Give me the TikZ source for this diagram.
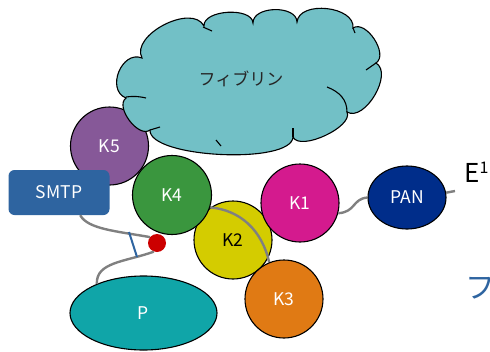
\documentclass[tikz,border=0pt]{standalone}
\usepackage{fontspec}
\setmainfont{Noto Sans CJK JP}
\usetikzlibrary{shapes.geometric}
\definecolor{cloudc}{RGB}{114,192,198}
\definecolor{k5c}{RGB}{134,88,152}
\definecolor{smtpc}{RGB}{46,100,160}
\definecolor{k4c}{RGB}{58,150,62}
\definecolor{k2c}{RGB}{212,204,0}
\definecolor{k1c}{RGB}{212,26,142}
\definecolor{k3c}{RGB}{224,122,20}
\definecolor{panc}{RGB}{0,45,138}
\definecolor{pc}{RGB}{16,165,168}
\definecolor{dotc}{RGB}{204,0,0}
\definecolor{greyc}{RGB}{128,128,128}
\definecolor{tickc}{RGB}{46,100,160}
\pgfdeclarelayer{bg}
\pgfdeclarelayer{mid}
\pgfsetlayers{bg,mid,main}
\begin{document}
\begin{tikzpicture}[x=1pt,y=-1pt,
  ball/.style={circle, draw=black, line width=1.1pt, minimum size=78pt, inner sep=0pt,
    text=white, font=\fontsize{17.5}{20}\selectfont},
  oval/.style={ellipse, draw=black, line width=1.1pt, inner sep=0pt,
    text=white, font=\fontsize{17.5}{20}\selectfont},
  gline/.style={draw=greyc, line width=2.4pt},
  cloudline/.style={draw=black, line width=1.1pt},
  stub/.style={draw=black, line width=1.1pt}]
\useasboundingbox (0,0) rectangle (490,351);

% K5
\node[ball, fill=k5c] (K5) at (109.5,146) {K5};

% cloud
\path[cloudline, fill=cloudc] (142,58) to[bend left=90,looseness=0.95] (204,26)
  to[bend left=90,looseness=0.85] (253,23)
  to[bend left=90,looseness=1.0] (297,22)
  to[bend left=90,looseness=1.0] (353,28)
  to[bend left=90,looseness=0.95] (376,63)
  to[bend left=90,looseness=0.92] (347,112)
  to[bend left=90,looseness=0.7] (293,137)
  to[bend left=90,looseness=0.5] (150,130)
  to[bend left=90,looseness=0.92] (126,98)
  to[bend left=90,looseness=1.3] (142,58) -- cycle;
\draw[stub] (126,97) to[bend left=10] (146,98);
\draw[stub] (150,130) -- (160,127);
\draw[stub] (203,27) -- (212,31);
\draw[stub] (353,28) -- (355,33);
\draw[stub] (376,63) -- (366,70);
\draw[stub] (327,87) .. controls (340,92) and (347,100) .. (347,112);
\draw[stub] (293,137) -- (293,128);
\draw[stub] (216,140) -- (221,146);
\node[text={black!85}, font=\fontsize{17}{20}\selectfont] (fib) at (241,79) {フィブリン};

% SMTP
\node[fill=smtpc, rounded corners=6pt, minimum width=101pt, minimum height=45pt,
  inner sep=0pt, text=white, font=\fontsize{17.5}{20}\selectfont] (SMTP) at (59,192.5) {SMTP};

% K2 (under everything)
\begin{pgfonlayer}{bg}
\node[ball, fill=k2c, text=black] (K2) at (233,240) {K2};
\end{pgfonlayer}

\node[ball, fill=k1c] (K1) at (300,203) {K1};
\node[ball, fill=k4c, minimum size=79pt] (K4) at (172,195) {K4};
\node[ball, fill=k3c] (K3) at (284,299) {K3};

\begin{pgfonlayer}{mid}
\draw[gline] (K4.-18) .. controls (240,210) and (262,230) .. (K3.112);
\end{pgfonlayer}

\node[oval, fill=panc, minimum width=78pt, minimum height=63pt] (PAN) at (407,197.5) {PAN};
\node[oval, fill=pc, minimum width=147pt, minimum height=74pt] (P) at (143.5,313) {P};
\node[circle, fill=dotc, minimum size=18pt, inner sep=0pt] (dot) at (157,243) {};

\coordinate (tail) at (455,191);
\draw[gline] (K1.-15) .. controls (356,212) and (352,199) .. (PAN.west);
\draw[gline] (PAN.7) -- (tail);
\draw[gline] (SMTP.-47) .. controls (88,229) and (115,231) .. (dot.140);
\draw[gline] (dot.-110) .. controls (125,262) and (96,262) .. (P.148);

\coordinate (t1) at (129,232);
\coordinate (t2) at (137,257);
\draw[draw=tickc, line width=2pt] (t1) -- (t2);

% right-hand texts
\node[anchor=base west, inner sep=0pt, font=\fontsize{26}{28}\selectfont] (E1) at (464,182)
  {E\raisebox{9pt}{\fontsize{16}{16}\selectfont 1}};
\node[anchor=west, inner sep=0pt, text=tickc, font=\fontsize{30}{32}\selectfont] (fu) at (465,288.5) {フ};
\end{tikzpicture}
\end{document}
